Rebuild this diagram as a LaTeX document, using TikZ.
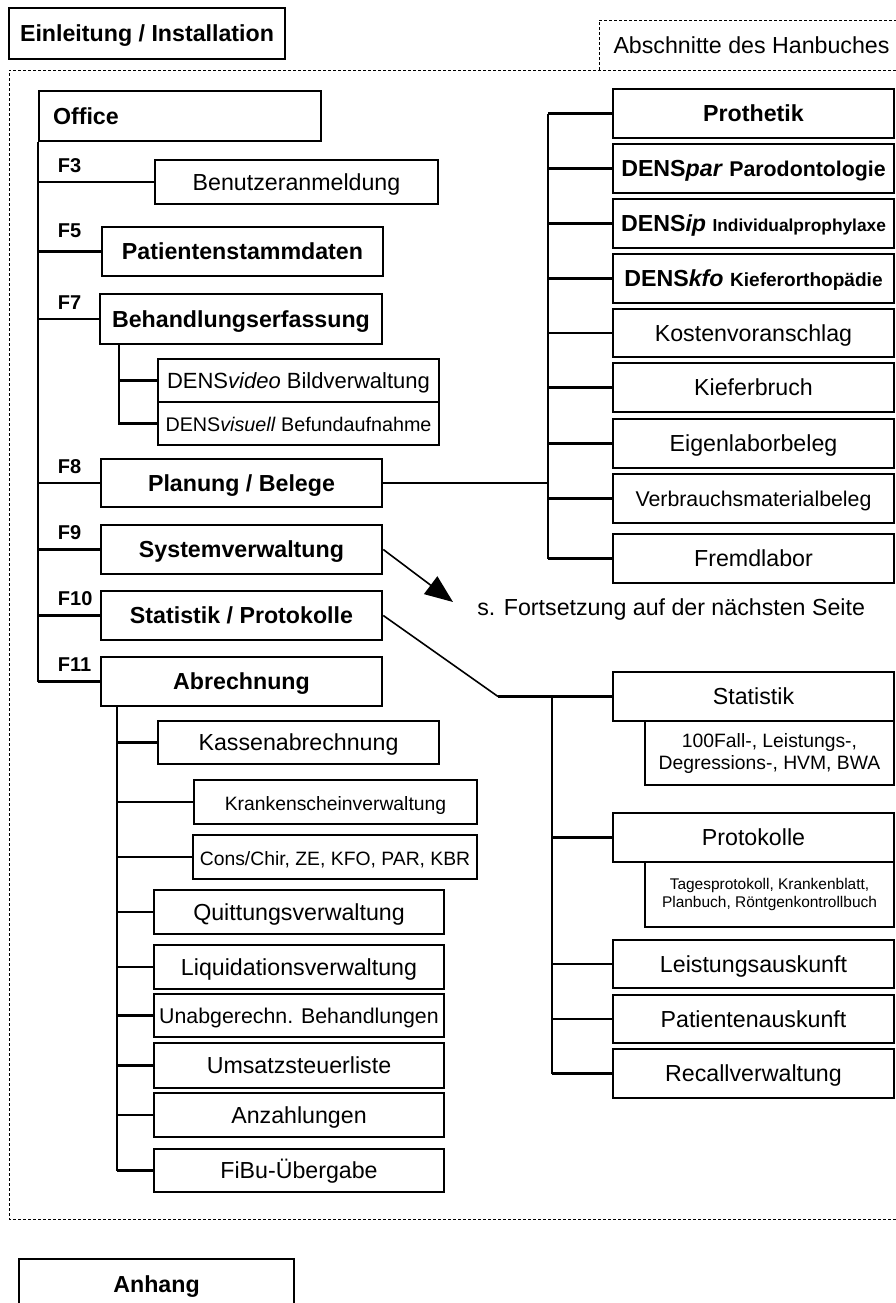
\documentclass[tikz,border=0pt]{standalone}
\usepackage{fontspec}
\setmainfont{Liberation Sans}
\usetikzlibrary{positioning,arrows.meta}

\newcommand{\fN}{\fontsize{17.4pt}{20pt}\selectfont}
\newcommand{\fB}{\fontsize{17.4pt}{20pt}\selectfont\bfseries}
\newcommand{\fK}{\fontsize{15pt}{17pt}\selectfont\bfseries}
\newcommand{\fS}{\fontsize{14.5pt}{16.5pt}\selectfont}
\newcommand{\fM}{\fontsize{16pt}{18pt}\selectfont}
\newcommand{\fT}{\fontsize{11.6pt}{13.5pt}\selectfont}

\begin{document}
\begin{tikzpicture}[x=0.75pt,y=-0.75pt,
  base/.style={draw,line width=1.9pt,inner sep=0pt,align=center,font=\fN},
  bx/.style={base,text height=12.4pt,text depth=0pt},
  hd/.style={bx,font=\fB},
  sz/.style 2 args={minimum width=#1*0.75pt,minimum height=#2*0.75pt},
  ln/.style={line width=1.8pt},
  dsh/.style={dash pattern=on 2.25pt off 1.5pt,line width=0.6pt},
  fkey/.style={pos=0,anchor=base west,inner sep=0pt,font=\fK,xshift=14.25pt,yshift=7.5pt},
  a/.style={-{Triangle[length=21pt,width=16.5pt]},line width=1.2pt}]
  \useasboundingbox (0,0) rectangle (896,1303);

  % frames
  \node[hd,sz={276}{51}] (einl) at (147,33.5) {Einleitung / Installation};
  \node[font=\fN] (absch) at (751.5,45) {Abschnitte des Hanbuches};
  \draw[dsh] (599,70) -- (599,20) -- (906,20);
  \draw[dsh] (906,70) -- (9,70) -- (9,1219) -- (906,1219);
  \node[hd,sz={275}{51}] (anh) at (156.5,1284.5) {Anhang};

  % Office
  \node[hd,text width=190.5pt,inner xsep=10.5pt,minimum height=37.5pt,align=left] (office) at (180,116) {Office};
  \node[bx,sz={283}{44}] (benutz) at (296.5,182) {Benutzeranmeldung};
  \node[hd,sz={281}{49}] (pat) at (242.5,251.5) {Patientenstammdaten};
  \node[hd,sz={282}{50}] (beh) at (241,319) {Behandlungserfassung};
  \node[bx,sz={281}{43},font=\fontsize{16.5pt}{18pt}\selectfont] (video) at (298.5,380.5) {DENS\textit{video} Bildverwaltung};
  \node[bx,sz={281}{43},font=\fontsize{14.8pt}{17pt}\selectfont] (visu) at (298.5,423.5) {DENS\textit{visuell} Befundaufnahme};
  \node[hd,sz={281}{48}] (plan) at (241.5,483) {Planung / Belege};
  \node[hd,sz={281}{49}] (sys) at (241.5,549.5) {Systemverwaltung};
  \node[hd,sz={281}{49}] (stp) at (241.5,615.5) {Statistik / Protokolle};
  \node[hd,sz={281}{49}] (abr) at (241.5,681.5) {Abrechnung};

  \draw[ln] (office.south west) -- (office.south west |- abr.west);
  \draw[ln] (office.south west |- benutz.west) -- node[fkey]{F3} (benutz.west);
  \draw[ln] (office.south west |- pat.west) -- node[fkey,yshift=3pt]{F5} (pat.west);
  \draw[ln] (office.south west |- beh.west) -- node[fkey]{F7} (beh.west);
  \draw[ln] (office.south west |- plan.west) -- node[fkey]{F8} (plan.west);
  \draw[ln] (office.south west |- sys.west) -- node[fkey]{F9} (sys.west);
  \draw[ln] (office.south west |- stp.west) -- node[fkey]{F10} (stp.west);
  \draw[ln] (office.south west |- abr.west) -- node[fkey]{F11} (abr.west);

  \coordinate (bbus) at (119,344);
  \draw[ln] (bbus) -- (bbus |- visu.west) -- (visu.west);
  \draw[ln] (bbus |- video.west) -- (video.west);

  % Planung / Belege
  \node[hd,sz={281}{49}] (proth) at (753.5,113.5) {Prothetik};
  \node[hd,sz={281}{49}] (dpar) at (753.5,168.5) {DENS\textit{par} {\fontsize{16pt}{18pt}\selectfont Parodontologie}};
  \node[hd,sz={281}{49}] (dip) at (753.5,223.5) {DENS\textit{ip} {\fontsize{13pt}{15pt}\selectfont Individualprophylaxe}};
  \node[hd,sz={281}{49}] (dkfo) at (753.5,278.5) {DENS\textit{kfo} {\fontsize{14.3pt}{16pt}\selectfont Kieferorthopädie}};
  \node[bx,sz={281}{48}] (kost) at (753.5,333) {Kostenvoranschlag};
  \node[bx,sz={281}{49}] (kief) at (753.5,387.5) {Kieferbruch};
  \node[bx,sz={281}{49}] (eigen) at (753.5,443.5) {Eigenlaborbeleg};
  \node[bx,sz={281}{49},font=\fM] (verb) at (753.5,498.5) {Verbrauchsmaterialbeleg};
  \node[bx,sz={281}{49}] (frem) at (753.5,558.5) {Fremdlabor};

  \coordinate (rbus) at (548,114);
  \draw[ln] (rbus) -- (rbus |- frem.west);
  \foreach \n in {proth,dpar,dip,dkfo,kost,kief,eigen,verb,frem}
    \draw[ln] (rbus |- \n.west) -- (\n.west);
  \draw[ln] (plan.east) -- (rbus |- plan.east);

  % Systemverwaltung
  \node[font=\fN,anchor=west,inner sep=0pt] (fort) at (477,609) {s. Fortsetzung auf der nächsten Seite};
  \coordinate (fortpt) at (453,602);
  \draw[a] (sys.east) -- (fortpt);

  % Statistik / Protokolle
  \node[bx,sz={281}{49}] (stat) at (753.5,696.5) {Statistik};
  \node[base,sz={249}{64},font=\fS] (statx) at (769.5,753) {100Fall-, Leistungs-,\\Degressions-, HVM, BWA};
  \node[bx,sz={281}{49}] (prot) at (753.5,837.5) {Protokolle};
  \node[base,sz={249}{65},font=\fT] (protx) at (769.5,894.5) {Tagesprotokoll, Krankenblatt,\\Planbuch, Röntgenkontrollbuch};
  \node[bx,sz={281}{48}] (leist) at (753.5,964) {Leistungsauskunft};
  \node[bx,sz={281}{48}] (patx) at (753.5,1019) {Patientenauskunft};
  \node[bx,sz={281}{49}] (recall) at (753.5,1073.5) {Recallverwaltung};

  \coordinate (bend) at (498,696.5);
  \coordinate (lbus) at (552,696.5);
  \draw[line width=1.2pt] (stp.east) -- (bend);
  \draw[ln] (bend) -- (stat.west);
  \draw[ln] (lbus) -- (lbus |- recall.west);
  \foreach \n in {prot,leist,patx,recall}
    \draw[ln] (lbus |- \n.west) -- (\n.west);

  % Abrechnung
  \node[bx,sz={281}{43}] (kasse) at (298.5,742.5) {Kassenabrechnung};
  \node[bx,sz={283}{44},font=\fS] (krank) at (335.5,802) {Krankenscheinverwaltung};
  \node[bx,sz={284}{44},font=\fS] (cons) at (335,857) {Cons/Chir, ZE, KFO, PAR, KBR};
  \node[bx,sz={290}{44}] (quitt) at (299,912) {Quittungsverwaltung};
  \node[bx,sz={290}{44}] (liqu) at (299,967) {Liquidationsverwaltung};
  \node[bx,sz={290}{43},font=\fM] (unab) at (299,1015.5) {Unabgerechn. Behandlungen};
  \node[bx,sz={290}{45}] (umsatz) at (299,1065.5) {Umsatzsteuerliste};
  \node[bx,sz={290}{44}] (anz) at (299,1115) {Anzahlungen};
  \node[bx,sz={290}{43}] (fibu) at (299,1170.5) {FiBu-Übergabe};

  \coordinate (abus) at (117,706);
  \draw[ln] (abus) -- (abus |- fibu.west);
  \foreach \n in {kasse,krank,cons,quitt,liqu,unab,umsatz,anz,fibu}
    \draw[ln] (abus |- \n.west) -- (\n.west);
\end{tikzpicture}
\end{document}
